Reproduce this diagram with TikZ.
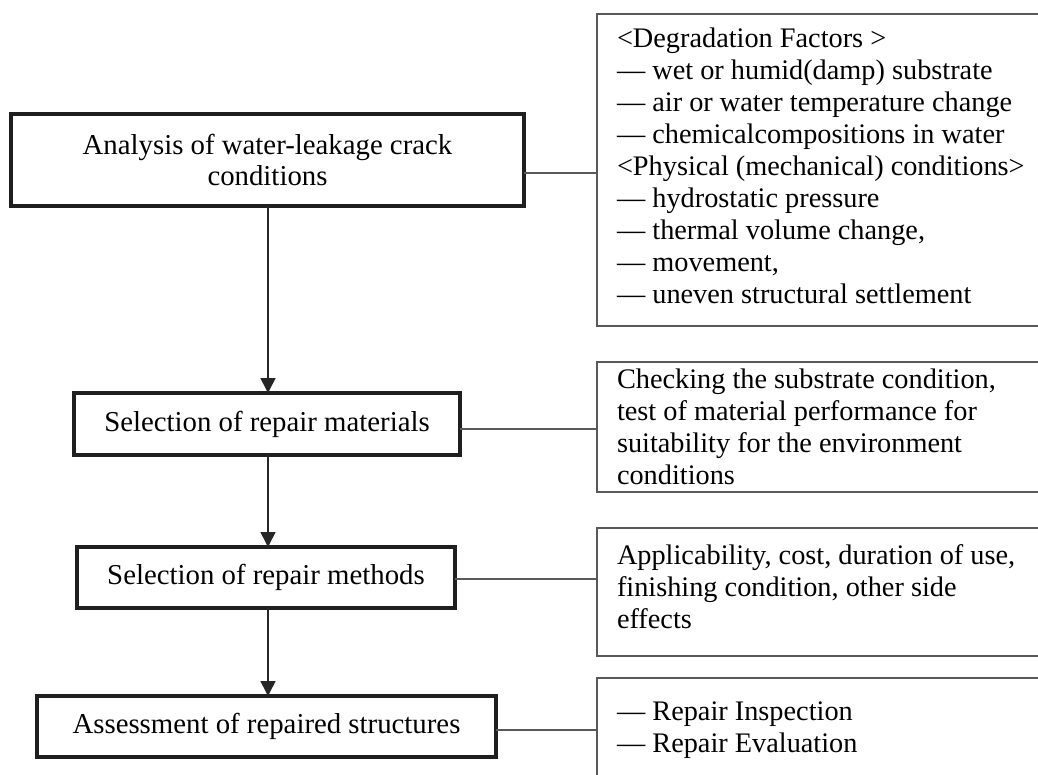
\documentclass[tikz,border=0pt]{standalone}
\usepackage{fontspec}
\setmainfont{Liberation Serif}
\usetikzlibrary{arrows.meta}
\begin{document}
\begin{tikzpicture}[x=1pt,y=-1pt,
  every node/.style={inner sep=0pt, outer sep=0pt},
  lbox/.style={draw=black!88, line width=3.2pt, fill=white, align=center,
    font=\fontsize{28.8}{31}\selectfont},
  rbox/.style={draw=black!65, line width=1.9pt, anchor=north west},
  rtext/.style={anchor=base west, text width=430pt, align=flush left,
    font=\fontsize{28.3}{32}\selectfont},
  link/.style={draw=black!65, line width=1.9pt},
  flow/.style={draw=black!85, line width=1.6pt, -{Triangle[length=15pt,width=15pt]}}
]
\clip (0,0) rectangle (1038,774);
\fill[white] (0,0) rectangle (1038,774);

% left process boxes
\node[lbox, minimum width=513pt, minimum height=92pt] (b1) at (267.5,160)
  {Analysis of water-leakage crack\\conditions};
\node[lbox, minimum width=386pt, minimum height=62pt] (b2) at (267,424)
  {Selection of repair materials};
\node[lbox, minimum width=378pt, minimum height=61pt] (b3) at (266,577.5)
  {Selection of repair methods};
\node[lbox, minimum width=459pt, minimum height=61pt] (b4) at (266.5,726.5)
  {Assessment of repaired structures};

% right information boxes
\node[rbox, minimum width=470pt, minimum height=312pt] (r1) at (597,14) {};
\node[rbox, minimum width=470pt, minimum height=130pt] (r2) at (597,362) {};
\node[rbox, minimum width=470pt, minimum height=128pt] (r3) at (597,528) {};
\node[rbox, minimum width=470pt, minimum height=130pt] (r4) at (597,678) {};

\node[rtext] (t1) at (617,47) {<Degradation Factors >\\
— wet or humid(damp) substrate\\
— air or water temperature change\\
— chemicalcompositions in water\\
<Physical (mechanical) conditions>\\
— hydrostatic pressure\\
— thermal volume change,\\
— movement,\\
— uneven structural settlement};
\node[rtext] (t2) at (617,388) {Checking the substrate condition,\\
test of material performance for\\
suitability for the environment\\
conditions};
\node[rtext] (t3) at (617,564) {Applicability, cost, duration of use,\\
finishing condition, other side\\
effects};
\node[rtext] (t4) at (617,720) {— Repair Inspection\\
— Repair Evaluation};

% connectors
\draw[link] (b1.east |- 0,173) -- (r1.west |- 0,173);
\draw[link] (b2.east |- 0,429) -- (r2.west |- 0,429);
\draw[link] (b3.east |- 0,579) -- (r3.west |- 0,579);
\draw[link] (b4.east |- 0,730) -- (r4.west |- 0,730);

% flow arrows
\draw[flow] (268,206) -- (268,393);
\draw[flow] (268,455) -- (268,547);
\draw[flow] (268,608) -- (268,696);
\end{tikzpicture}
\end{document}
